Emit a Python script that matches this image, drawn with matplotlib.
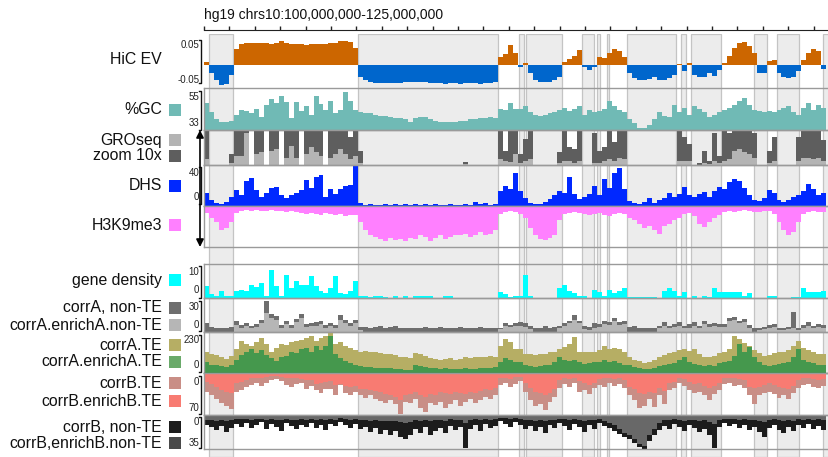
"""
Genome-browser style stack of tracks for hg19 chr10:100-125 Mb
(HiC eigenvector, GC, GRO-seq, DHS, H3K9me3, gene density and
A/B-compartment correlated TE / non-TE counts).
"""

import numpy as np
import matplotlib
matplotlib.use("Agg")
import matplotlib.pyplot as plt
from matplotlib.patches import Rectangle

plt.rcParams["font.family"] = ["Liberation Sans", "DejaVu Sans"]

W, H = 829, 457
X0 = 204                 # left edge of the data area (px)
PX_PER_MB = 25.4
START_MB = 100.0
BIN_MB = 0.196
END_MB = START_MB + (W - X0) / PX_PER_MB

# ---- data (one value per bin) ----
hic_ev = [
    0.008, -0.02, -0.04, -0.052, -0.048, -0.025, 0.042, 0.053, 0.057, 0.058,
    0.058, 0.057, 0.056, 0.055, 0.058, 0.061, 0.056, 0.054, 0.053, 0.053,
    0.052, 0.053, 0.054, 0.054, 0.055, 0.056, 0.058, 0.061, 0.062, 0.060,
    0.045, -0.030, -0.040, -0.044, -0.046, -0.047, -0.046, -0.047, -0.047, -0.046,
    -0.045, -0.044, -0.043, -0.044, -0.045, -0.046, -0.046, -0.047, -0.048, -0.047,
    -0.047, -0.048, -0.047, -0.046, -0.047, -0.048, -0.047, -0.046, -0.044, 0.020,
    0.028, 0.052, 0.030, -0.005, 0.004, -0.020, -0.040, -0.044, -0.044, -0.043,
    -0.040, -0.030, 0.008, 0.015, 0.022, 0.038, -0.005, -0.012, -0.006, 0.020,
    0.018, 0.030, 0.040, 0.035, 0.020, -0.020, -0.033, -0.039, -0.040, -0.036,
    -0.030, -0.039, -0.038, -0.035, -0.025, 0.003, -0.015, 0.004, -0.025, -0.030,
    -0.030, -0.020, -0.028, -0.012, 0.005, 0.022, 0.045, 0.058, 0.060, 0.050,
    0.030, -0.020, -0.021, 0.010, 0.014, -0.020, -0.030, -0.035, -0.030, -0.015,
    0.012, 0.030, 0.042, 0.035, -0.010,
]

gc_pct = [
    50, 42, 36, 34, 34, 35, 40, 44, 43, 41,
    45, 38, 48, 53, 50, 56, 51, 37, 51, 43,
    47, 40, 56, 49, 44, 52, 41, 44, 59, 52,
    44, 42, 41, 41, 40, 39, 39, 38, 37, 37,
    36, 34, 37, 38, 38, 36, 35, 34, 34, 34,
    34, 35, 35, 36, 36, 37, 37, 38, 37, 45,
    44, 50, 45, 45, 47, 42, 40, 39, 40, 41,
    42, 44, 46, 43, 45, 47, 40, 44, 42, 43,
    45, 52, 47, 44, 42, 36, 33, 29, 29, 31,
    36, 42, 39, 38, 48, 42, 46, 40, 47, 45,
    42, 38, 40, 42, 44, 46, 48, 52, 54, 48,
    44, 43, 42, 43, 42, 44, 46, 47, 42, 40,
    46, 50, 44, 48, 46,
]

# GRO-seq as fraction of track height; "zoom 10x" is clipped at the top
gro_zoom = [
    1, 0, 0, 0, 0, .3, 1, 1, 1, 0,
    1, 1, 0, 1, 1, 0, 1, 1, 1, 0,
    1, 1, 1, 1, 0, 1, 1, 1, 1, .8,
    1, .4, 0, 0, 0, 0, 0, 0, 0, 0,
    0, 0, 0, 0, 0, 0, 0, 0, 0, 0,
    0, 0, .08, 0, 0, 0, 0, 0, 0, 1,
    .4, 1, 1, .3, .75, 1, 0, 0, 0, 0,
    0, .35, 1, .5, .45, 1, 0, 0, .9, .4,
    .5, 1, .65, 1, 1, 0, 0, 0, 0, 0,
    0, 0, 0, 0, 0, 1, .8, .6, 0, .05,
    .4, .1, .9, .25, 1, .9, 1, 1, 1, 1,
    .9, 0, 0, .4, .8, 0, 0, 0, 0, .8,
    1, 1, 1, 1, .7,
]
gro_seq = [
    .15, 0, 0, 0, 0, .05, .25, .25, .9, 0,
    .3, .35, 0, .4, .45, 0, .2, .55, .2, 0,
    .3, .5, .35, .25, 0, .2, .3, .45, .3, .15,
    .25, .05, 0, 0, 0, 0, 0, 0, 0, 0,
    0, 0, 0, 0, 0, 0, 0, 0, 0, 0,
    0, 0, .01, 0, 0, 0, 0, 0, 0, .15,
    .1, .08, .3, .05, .1, .15, 0, 0, 0, 0,
    0, .05, .1, .1, .05, .1, 0, 0, .05, .05,
    .1, .15, .1, .2, .15, 0, 0, 0, 0, 0,
    0, 0, 0, 0, 0, .1, .1, .1, 0, 0,
    .05, .02, .1, .05, .1, .15, .4, .45, .35, .3,
    .2, 0, 0, .05, .1, 0, 0, 0, 0, .1,
    .2, .2, .15, .2, .1,
]

dhs = [
    14, 6, 3, 2, 4, 10, 17, 12, 28, 31,
    17, 10, 14, 20, 21, 12, 8, 12, 14, 17,
    29, 20, 32, 34, 10, 18, 13, 18, 22, 23,
    46, 3, 1, 2, 1, 1, 2, 1, 2, 1,
    2, 1, 2, 1, 2, 1, 2, 1, 1, 2,
    1, 1, 2, 1, 4, 2, 3, 1, 2, 16,
    22, 18, 36, 16, 8, 3, 2, 2, 4, 7,
    12, 16, 14, 32, 13, 7, 10, 13, 22, 12,
    30, 20, 36, 42, 18, 5, 3, 2, 4, 8,
    3, 6, 8, 14, 10, 13, 21, 12, 10, 13,
    15, 10, 16, 21, 18, 26, 30, 27, 20, 12,
    6, 5, 8, 17, 14, 6, 4, 6, 10, 12,
    16, 24, 18, 12, 14,
]

# H3K9me3 drawn downwards, fraction of track height
h3k9me3 = [
    .17, .3, .4, .6, .55, .4, .18, .13, .12, .14,
    .12, .13, .14, .12, .13, .14, .15, .13, .16, .18,
    .2, .17, .2, .22, .18, .2, .22, .2, .25, .22,
    .22, .4, .6, .7, .75, .8, .85, .78, .82, .8,
    .85, .78, .8, .7, .75, .85, .78, .72, .8, .75,
    .7, .72, .68, .75, .7, .65, .72, .68, .6, .2,
    .15, .14, .16, .2, .3, .55, .72, .8, .82, .78,
    .7, .35, .2, .18, .15, .18, .2, .22, .2, .18,
    .22, .25, .2, .18, .2, .3, .35, .45, .55, .5,
    .6, .68, .5, .45, .35, .3, .2, .18, .25, .45,
    .52, .4, .3, .22, .15, .14, .16, .13, .12, .14,
    .15, .16, .14, .13, .2, .4, .6, .7, .65, .4,
    .2, .15, .14, .16, .15,
]

gene_density = [
    5, 1.5, 1, 3, 1, 1, 3, 3.5, 3, 5.5,
    4.5, 6, 1, 11.5, 5, 1, 9.5, 4, 7, 5.5,
    5.5, 9, 5, 3, 2, 4, 9, 2, 1.5, 3,
    7, 1, 1, .5, 1, 1, .5, 0, 1, 0,
    1, 0, 1, 1, 1, 1, 0, 0, 1, 1,
    0, 0, 0, 0, 0, 0, 0, 0, 0, 2.5,
    1.5, .5, 1, 1, 9.5, 1, 0, 0, 0, 0,
    0, 4, 5.5, 3, 2, 1, 1, 0, 3.5, 2.5,
    1, 3.5, 2, 3, 4, .5, .5, .5, .5, .5,
    .5, 0, 3, 4, 3, 1, 2.5, 0, 1, 0,
    1, .5, 4, 2.5, 2.5, 2.5, 2.5, 2.5, 1, 2,
    0, 0, 0, 1, 1, 0, 0, 0, .5, .5,
    4, 2.5, 2.5, 2.5, 3,
]

corrA_nonTE = [
    10, 6, 5, 4, 5, 6, 12, 8, 10, 7,
    9, 14, 35, 21, 18, 8, 12, 8, 15, 21,
    9, 10, 11, 13, 8, 10, 8, 19, 14, 10,
    14, 6, 6, 5, 6, 7, 5, 6, 7, 5,
    4, 5, 5, 4, 6, 5, 4, 6, 5, 4,
    5, 6, 4, 5, 4, 6, 5, 4, 5, 5,
    10, 8, 10, 11, 10, 7, 5, 5, 7, 5,
    6, 7, 10, 13, 19, 13, 7, 6, 10, 9,
    13, 11, 16, 11, 13, 6, 7, 5, 4, 5,
    4, 7, 11, 7, 9, 11, 7, 9, 11, 7,
    13, 9, 10, 9, 9, 16, 17, 13, 15, 8,
    5, 5, 6, 8, 9, 5, 5, 6, 23, 5,
    8, 11, 7, 9, 8,
]
corrA_enrichA_nonTE = [
    0, 0, 0, 0, 0, 0, 8, 5, 7, 5,
    6, 10, 22, 16, 14, 5, 9, 5, 11, 16,
    6, 7, 7, 9, 5, 7, 5, 14, 10, 7,
    10, 2, 0, 0, 0, 0, 0, 0, 0, 0,
    0, 0, 0, 0, 0, 0, 0, 0, 0, 0,
    0, 0, 0, 0, 0, 0, 0, 0, 0, 3,
    7, 6, 7, 7, 6, 3, 0, 0, 0, 0,
    0, 4, 7, 10, 14, 10, 3, 2, 5, 6,
    9, 8, 12, 8, 9, 0, 0, 0, 0, 0,
    0, 4, 7, 4, 6, 7, 4, 5, 7, 4,
    9, 6, 7, 6, 6, 13, 14, 10, 11, 5,
    0, 2, 3, 5, 6, 2, 2, 3, 5, 2,
    5, 7, 4, 6, 5,
]

corrA_TE = [
    150, 130, 125, 110, 100, 120, 165, 220, 200, 190,
    215, 245, 200, 150, 175, 200, 195, 215, 225, 230,
    245, 255, 220, 245, 255, 280, 205, 215, 190, 175,
    160, 150, 155, 145, 150, 140, 135, 130, 125, 115,
    110, 105, 140, 130, 120, 105, 100, 95, 100, 105,
    95, 100, 110, 105, 110, 115, 110, 120, 115, 190,
    235, 215, 170, 165, 135, 130, 125, 130, 135, 150,
    145, 165, 180, 200, 250, 150, 145, 150, 145, 160,
    185, 165, 175, 165, 150, 115, 95, 85, 70, 75,
    90, 110, 125, 140, 150, 160, 165, 155, 170, 130,
    110, 115, 120, 140, 150, 170, 255, 240, 210, 190,
    160, 140, 120, 125, 140, 145, 150, 160, 190, 220,
    175, 160, 150, 135, 130,
]
corrA_enrichA_TE = [
    80, 60, 55, 50, 45, 60, 95, 125, 150, 165,
    140, 160, 125, 105, 85, 115, 120, 150, 140, 170,
    175, 150, 190, 160, 185, 255, 130, 105, 85, 70,
    60, 50, 45, 46, 40, 38, 35, 35, 30, 28,
    25, 22, 55, 50, 45, 40, 35, 32, 35, 30,
    28, 30, 35, 30, 32, 35, 38, 40, 45, 80,
    105, 95, 80, 75, 55, 50, 45, 48, 55, 60,
    75, 115, 90, 85, 95, 75, 65, 70, 75, 80,
    90, 75, 85, 70, 60, 60, 45, 35, 30, 30,
    40, 50, 60, 65, 70, 95, 110, 80, 65, 55,
    50, 55, 50, 70, 75, 85, 120, 200, 150, 180,
    110, 75, 55, 50, 55, 65, 70, 75, 110, 165,
    90, 80, 70, 60, 55,
]

corrB_TE = [
    38, 45, 52, 60, 66, 72, 38, 34, 28, 24,
    20, 26, 20, 14, 12, 16, 24, 28, 22, 20,
    31, 26, 35, 40, 33, 31, 45, 24, 40, 45,
    38, 45, 50, 45, 52, 56, 60, 55, 62, 83,
    58, 60, 52, 70, 78, 60, 65, 58, 70, 62,
    55, 66, 58, 52, 60, 55, 48, 52, 45, 24,
    20, 28, 22, 16, 38, 55, 66, 62, 75, 58,
    48, 30, 22, 28, 20, 38, 35, 42, 30, 24,
    28, 20, 26, 22, 30, 45, 55, 70, 66, 52,
    68, 45, 62, 35, 30, 20, 26, 34, 40, 38,
    45, 55, 42, 35, 22, 20, 26, 24, 30, 45,
    62, 45, 40, 38, 42, 50, 45, 52, 40, 30,
    24, 22, 28, 30, 26,
]
corrB_enrichB_TE = [
    17, 22, 28, 35, 38, 40, 20, 17, 14, 10,
    10, 10, 8, 6, 6, 8, 10, 10, 10, 11,
    14, 14, 21, 20, 17, 15, 24, 21, 26, 28,
    26, 31, 33, 35, 36, 38, 42, 45, 48, 55,
    45, 42, 38, 45, 48, 42, 45, 38, 40, 42,
    38, 40, 42, 38, 40, 36, 32, 35, 30, 10,
    10, 12, 8, 7, 20, 30, 38, 40, 45, 40,
    32, 14, 10, 12, 10, 15, 20, 24, 20, 12,
    10, 10, 12, 10, 14, 28, 32, 40, 42, 38,
    40, 30, 36, 20, 18, 10, 12, 18, 22, 20,
    25, 30, 26, 20, 10, 10, 10, 12, 14, 28,
    30, 28, 24, 20, 24, 28, 30, 32, 26, 14,
    10, 10, 12, 14, 12,
]

corrB_nonTE = [
    10, 12, 15, 11, 17, 13, 9, 12, 8, 13,
    10, 7, 14, 9, 12, 16, 8, 11, 14, 10,
    12, 8, 13, 10, 15, 9, 11, 7, 10, 13,
    9, 14, 12, 17, 13, 19, 15, 20, 16, 22,
    24, 20, 14, 18, 12, 20, 16, 13, 18, 11,
    15, 12, 33, 14, 10, 16, 9, 13, 11, 6,
    9, 12, 7, 10, 14, 11, 16, 12, 18, 10,
    13, 8, 11, 15, 9, 12, 17, 10, 14, 8,
    11, 13, 16, 19, 22, 24, 28, 32, 34, 26,
    20, 15, 11, 14, 9, 12, 16, 10, 13, 17,
    14, 20, 33, 12, 8, 11, 9, 13, 10, 15,
    12, 17, 22, 13, 10, 15, 18, 12, 16, 10,
    13, 9, 14, 11, 15,
]
corrB_enrichB_nonTE = [
    5, 5, 6, 5, 6, 5, 4, 4, 4, 5,
    4, 4, 5, 4, 5, 5, 4, 5, 5, 4,
    5, 4, 5, 4, 5, 4, 5, 3, 4, 5,
    4, 5, 5, 6, 5, 6, 6, 6, 6, 7,
    8, 7, 5, 6, 5, 6, 5, 5, 6, 4,
    5, 5, 8, 5, 4, 5, 4, 5, 4, 3,
    3, 4, 3, 4, 5, 5, 6, 5, 6, 5,
    5, 4, 4, 5, 4, 5, 6, 5, 5, 4,
    6, 8, 10, 14, 18, 20, 24, 29, 31, 20,
    14, 8, 5, 5, 4, 5, 6, 5, 5, 6,
    5, 7, 9, 5, 4, 4, 4, 5, 4, 5,
    5, 6, 7, 5, 4, 5, 6, 5, 6, 4,
    5, 4, 5, 4, 5,
]

# B-compartment (shaded) intervals, Mb
b_start = [100.20, 106.06, 112.40, 112.68, 114.88, 115.47, 115.87,
           116.65, 118.78, 119.17, 121.65, 122.57, 124.37]
b_end = [101.13, 111.57, 112.60, 114.09, 115.35, 115.59, 115.94,
         118.58, 118.98, 120.35, 122.17, 123.43, 125.00]

COL = {
    "hic_pos": "#cc6600", "hic_neg": "#0066cc", "gc": "#70bab5",
    "gro": "#b4b4b4", "gro_zoom": "#5e5e5e", "dhs": "#0028ff",
    "h3k9": "#ff80ff", "gene": "#00ffff",
    "a_non": "#6e6e6e", "a_non_en": "#b6b6b6",
    "a_te": "#b6ae64", "a_te_en": "#45984d",
    "b_te": "#c98e86", "b_te_en": "#f87b72",
    "b_non": "#1c1c1c", "b_non_en": "#686868",
}

fig = plt.figure(figsize=(W / 100, H / 100), dpi=100)


def rect(y_top, y_bot, x_left=X0, x_right=W):
    return [x_left / W, 1 - y_bot / H, (x_right - x_left) / W, (y_bot - y_top) / H]


def panel(y_top, y_bot, frame=True):
    ax = fig.add_axes(rect(y_top, y_bot))
    ax.set_zorder(2)
    ax.set_xlim(START_MB, END_MB)
    ax.patch.set_alpha(0)
    ax.set_xticks([])
    ax.set_yticks([])
    for s in ax.spines.values():
        s.set_color("#9a9a9a")
        s.set_linewidth(1)
        s.set_visible(frame)
    return ax


def fill(ax, vals, color):
    edges = START_MB + np.arange(len(vals) + 1) * BIN_MB
    ax.stairs(np.asarray(vals, float), edges, baseline=0, fill=True,
              color=color, lw=0)


# background shading of B compartments across all tracks
bg = fig.add_axes(rect(34, H))
bg.set_zorder(1)
bg.set_xlim(START_MB, END_MB)
bg.set_ylim(0, 1)
bg.axis("off")
for s, e in zip(b_start, b_end):
    bg.axvspan(s, e, facecolor="#ececec", edgecolor="#c4c4c4", lw=0.9)

# ruler
ax = fig.add_axes(rect(23, 29.5))
ax.set_xlim(START_MB, END_MB)
ax.patch.set_alpha(0)
for side in ("top", "left", "right"):
    ax.spines[side].set_visible(False)
ax.spines["bottom"].set_color("#222222")
ax.set_yticks([])
ax.set_xticks(np.arange(100, 125))
ax.tick_params(axis="x", direction="in", length=3.2, width=1,
               color="#222222", labelbottom=False)

# HiC EV
ax = panel(34, 88, frame=False)
hic = np.asarray(hic_ev)
fill(ax, np.maximum(hic, 0), COL["hic_pos"])
fill(ax, np.minimum(hic, 0), COL["hic_neg"])
ax.set_ylim(-0.0596, 0.080)

# %GC
ax = panel(88, 130)
fill(ax, gc_pct, COL["gc"])
ax.set_ylim(27, 62.6)

# GRO-seq
ax = panel(130, 164.5)
fill(ax, gro_zoom, COL["gro_zoom"])
fill(ax, gro_seq, COL["gro"])
ax.set_ylim(0, 1)

# DHS
ax = panel(164.5, 205.5)
fill(ax, dhs, COL["dhs"])
ax.set_ylim(0, 46)

# H3K9me3 (downwards)
ax = panel(205.5, 247)
fill(ax, h3k9me3, COL["h3k9"])
ax.set_ylim(1, 0)

# gene density
ax = panel(264, 298)
fill(ax, gene_density, COL["gene"])
ax.set_ylim(0, 14)

# corrA non-TE
ax = panel(298, 332)
fill(ax, corrA_nonTE, COL["a_non"])
fill(ax, corrA_enrichA_nonTE, COL["a_non_en"])
ax.set_ylim(0, 38.6)

# corrA TE
ax = panel(332, 373.3)
fill(ax, corrA_TE, COL["a_te"])
fill(ax, corrA_enrichA_TE, COL["a_te_en"])
ax.set_ylim(0, 285)
ax.spines["bottom"].set_color("#2f6a36")

# corrB TE (downwards)
ax = panel(373.3, 414.5)
fill(ax, corrB_TE, COL["b_te"])
fill(ax, corrB_enrichB_TE, COL["b_te_en"])
ax.set_ylim(84, 0)

# corrB non-TE (downwards)
ax = panel(414.5, 449)
fill(ax, corrB_nonTE, COL["b_non"])
fill(ax, corrB_enrichB_nonTE, COL["b_non_en"])
ax.set_ylim(34.5, 0)

# overlay in pixel coordinates for labels, legends, brackets
ov = fig.add_axes([0, 0, 1, 1])
ov.set_zorder(3)
ov.set_xlim(0, W)
ov.set_ylim(H, 0)
ov.axis("off")
ov.patch.set_alpha(0)

ov.text(X0, 15, "hg19 chrs10:100,000,000-125,000,000", ha="left", va="center",
        fontsize=10, color="#111111")

labels = [
    ("HiC EV", 60, None), ("%GC", 110, COL["gc"]),
    ("GROseq", 140, COL["gro"]), ("zoom 10x", 156, COL["gro_zoom"]),
    ("DHS", 186, COL["dhs"]), ("H3K9me3", 225, COL["h3k9"]),
    ("gene density", 280, COL["gene"]),
    ("corrA, non-TE", 308, COL["a_non"]),
    ("corrA.enrichA.non-TE", 325, COL["a_non_en"]),
    ("corrA.TE", 345, COL["a_te"]),
    ("corrA.enrichA.TE", 362, "#6aaa6a"),
    ("corrB.TE", 383, COL["b_te"]),
    ("corrB.enrichB.TE", 401, COL["b_te_en"]),
    ("corrB, non-TE", 427, COL["b_non"]),
    ("corrB,enrichB.non-TE", 443, "#4a4a4a"),
]
for text, yc, color in labels:
    ov.text(162, yc, text, ha="right", va="center", fontsize=11.4, color="#111111")
    if color is not None:
        ov.add_patch(Rectangle((169, yc - 6), 12, 12, facecolor=color, lw=0))

brackets = [
    (40, 83, "0.05", "-0.05", 45.5, 80),
    (91, 130, "55", "33", 97, 123),
    (167, 204, "40", "0", 173, 197),
    (266, 297.5, "10", "0", 272, 290),
    (301, 330.5, "30", "0", 307, 325),
    (335, 372, "230", "0", 340, 365),
    (376, 414, "0", "70", 382, 408),
    (417, 448, "0", "35", 422, 443),
]
for y0, y1, lab0, lab1, ly0, ly1 in brackets:
    ov.plot([199, 201.5, 201.5, 199], [y0, y0, y1, y1], color="#111111", lw=1)
    ov.text(199.5, ly0, lab0, ha="right", va="center", fontsize=7, color="#222222")
    ov.text(199.5, ly1, lab1, ha="right", va="center", fontsize=7, color="#222222")

ov.annotate("", xy=(200, 247), xytext=(200, 130),
            arrowprops=dict(arrowstyle="<|-|>", color="black", lw=1.2,
                            mutation_scale=11, shrinkA=0, shrinkB=0))

fig.savefig("out.png", dpi=100)
